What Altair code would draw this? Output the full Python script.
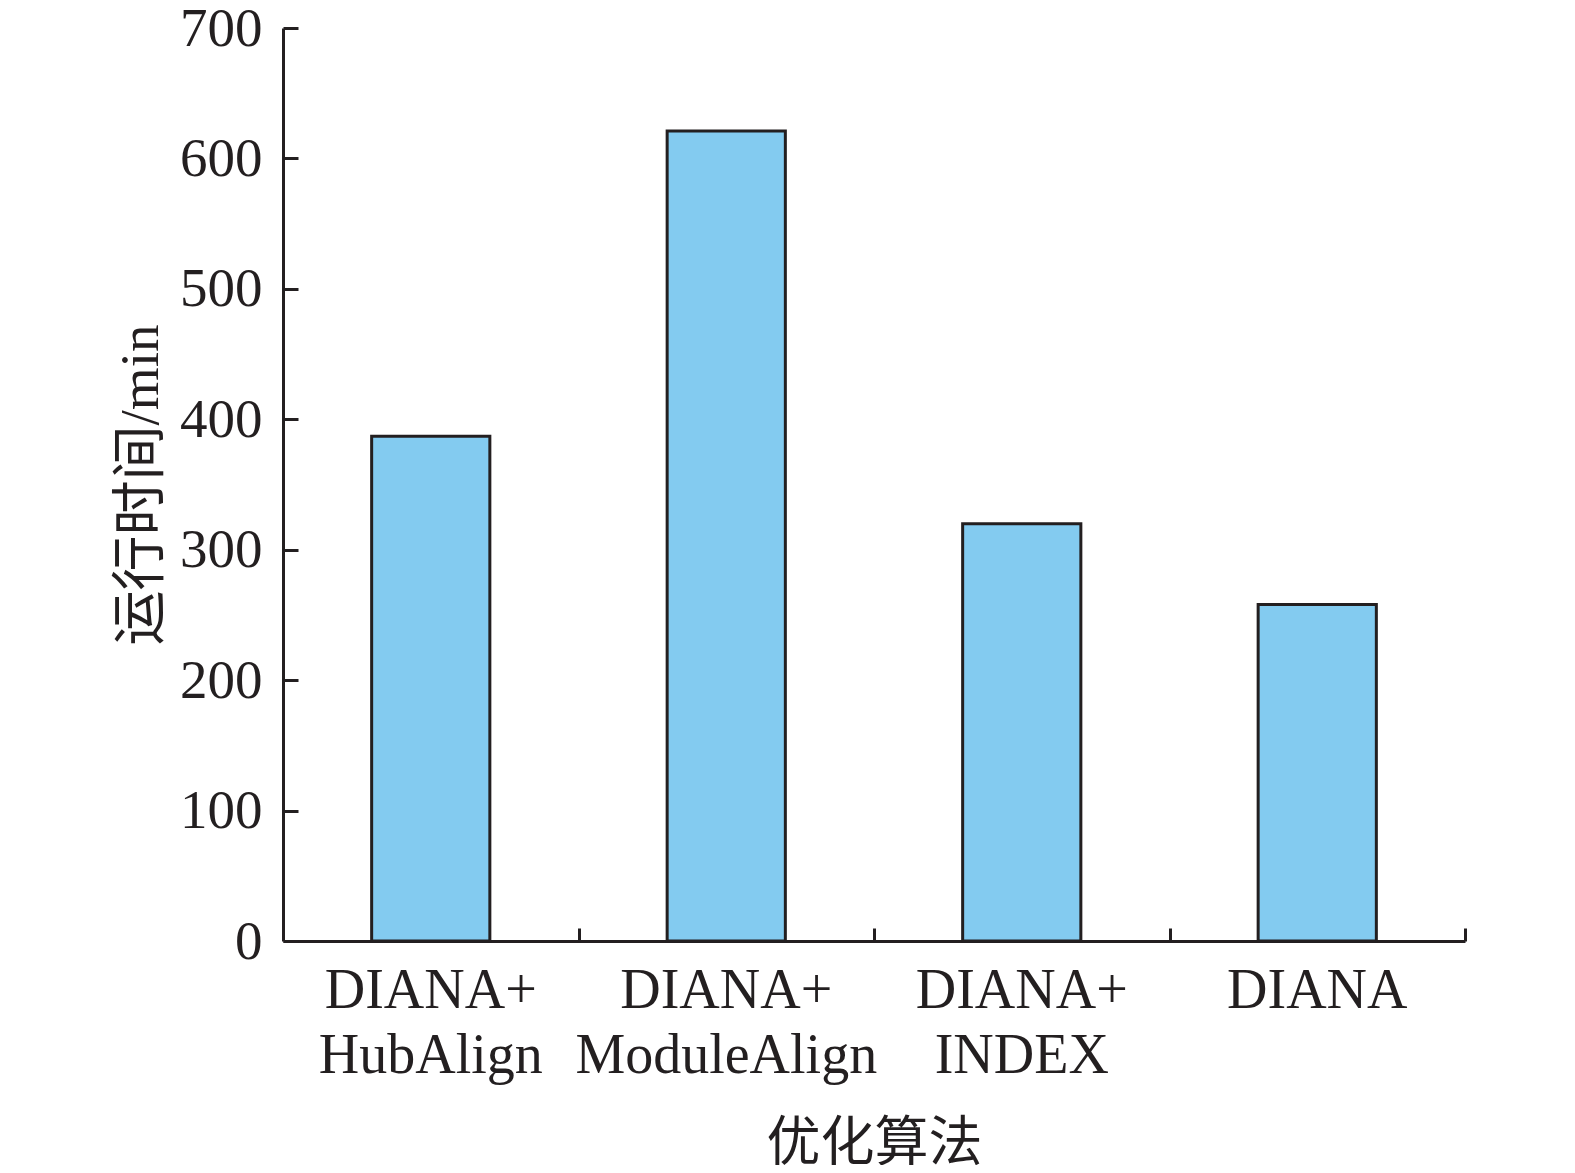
import altair as alt
import pandas as pd

categories = ["DIANA+\nHubAlign", "DIANA+\nModuleAlign", "DIANA+\nINDEX", "DIANA"]
run_time = [387, 621, 320, 258]
y_ticks = [0, 100, 200, 300, 400, 500, 600, 700]

df = pd.DataFrame({"alg": categories, "time": run_time})

W, H = 1182, 913
STEP = W / 4.0
INK = "#231f20"
FONT = "Liberation Serif, Noto Sans CJK SC"

xscale = alt.Scale(paddingInner=0.6, paddingOuter=0.3)
yscale = alt.Scale(domain=[0, 700], nice=False)

bars = alt.Chart(df).mark_bar(
    color="#83cbf0", stroke=INK, strokeWidth=3
).encode(
    x=alt.X("alg:N", sort=None, scale=xscale, title="优化算法",
            axis=alt.Axis(orient="bottom", ticks=False, tickSize=0,
                          domainColor=INK, domainWidth=3,
                          labelAngle=0, labelFont=FONT, labelFontSize=56,
                          labelColor=INK, labelPadding=22, labelLimit=0,
                          labelLineHeight=65, labelBaseline="top",
                          labelExpr="split(datum.label, '\\n')",
                          titleFont=FONT, titleFontSize=54,
                          titleFontWeight="normal", titleColor=INK,
                          titlePadding=34)),
    y=alt.Y("time:Q", scale=yscale, title="运行时间/min",
            axis=alt.Axis(orient="left", values=y_ticks, ticks=False,
                          tickSize=0, grid=False,
                          domainColor=INK, domainWidth=3,
                          labelFont=FONT, labelFontSize=55, labelColor=INK,
                          labelPadding=21,
                          titleFont=FONT, titleFontSize=55,
                          titleFontWeight="normal", titleColor=INK,
                          titlePadding=10)),
)

tick_layer = alt.Chart(df).mark_bar(opacity=0).encode(
    x=alt.X("alg:N", sort=None, scale=xscale, title=None,
            axis=alt.Axis(orient="top", offset=-H, domain=False,
                          labels=False, ticks=True, tickSize=13,
                          tickWidth=3, tickColor=INK,
                          tickOffset=STEP / 2)),
    y=alt.Y("time:Q", scale=yscale, title=None,
            axis=alt.Axis(orient="right", offset=-W, values=y_ticks,
                          domain=False, labels=False, grid=False,
                          ticks=True, tickSize=15, tickWidth=3,
                          tickColor=INK)),
)

chart = alt.layer(bars, tick_layer).resolve_axis(
    x="independent", y="independent"
).properties(
    width=W, height=H,
    autosize=alt.AutoSizeParams(type="none"),
    padding={"left": 275, "top": 20, "right": 100, "bottom": 224},
    background="white",
).configure_view(strokeWidth=0)

chart.save("out.html", embed_options={"renderer": "svg", "actions": False})
